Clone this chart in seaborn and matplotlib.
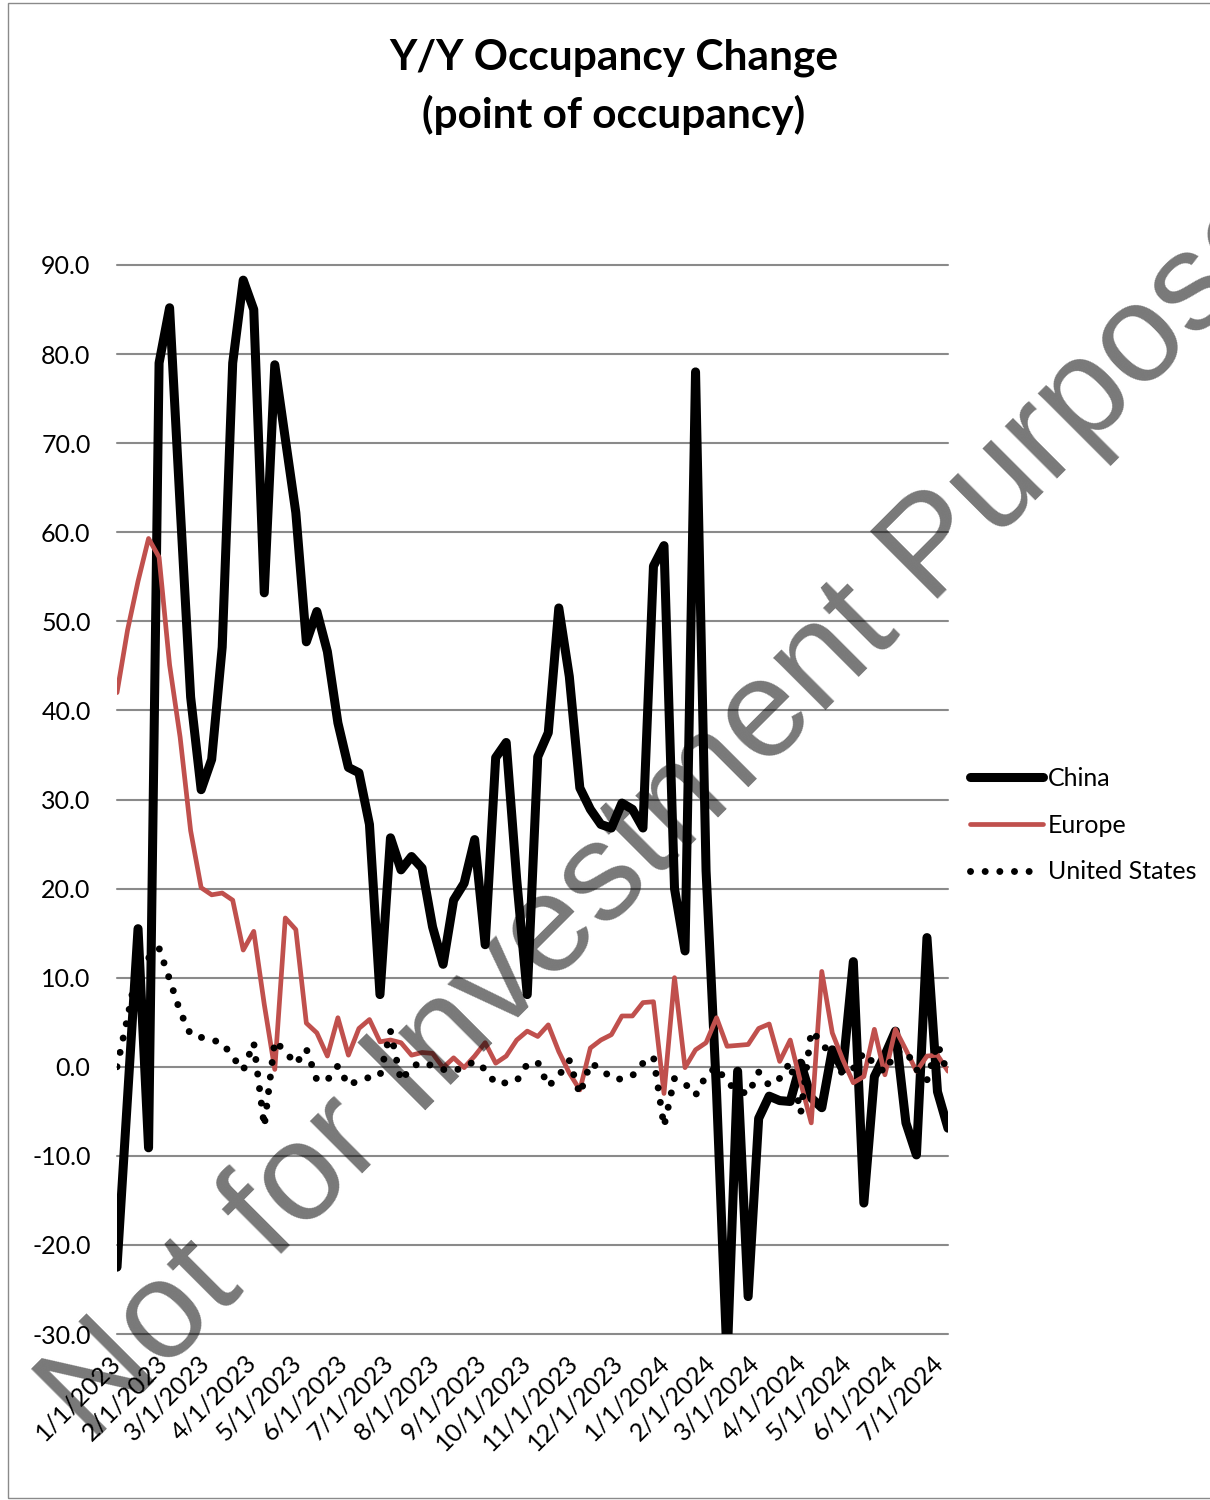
import matplotlib

matplotlib.use("Agg")

import matplotlib.pyplot as plt
import pandas as pd
import seaborn as sns
from matplotlib.patches import Rectangle


# weekly points, 1/1/2023 through 7/7/2024
weeks = pd.date_range("2023-01-01", periods=80, freq="7D")

china = [
    -22.5, -3.5, 15.5, -9.1, 79.0, 85.2, 63.0, 41.5, 31.1, 34.5,
    47.1, 79.0, 88.3, 85.0, 53.2, 78.8, 70.5, 62.2, 47.7, 51.1,
    46.6, 38.6, 33.6, 33.0, 27.2, 8.1, 25.7, 22.1, 23.6, 22.3,
    15.7, 11.5, 18.7, 20.6, 25.5, 13.7, 34.7, 36.4, 21.0, 8.1,
    34.8, 37.5, 51.5, 43.8, 31.3, 28.9, 27.2, 26.8, 29.6, 28.9,
    26.8, 56.2, 58.5, 20.0, 13.0, 78.0, 22.0, -3.0, -33.0, -0.5,
    -25.8, -5.8, -3.3, -3.8, -3.9, 0.4, -3.5, -4.6, 1.9, -0.3,
    11.8, -15.3, -1.1, 1.3, 4.0, -6.3, -9.9, 14.5, -2.8, -6.9,
]

europe = [
    42.0, 49.0, 54.5, 59.3, 57.2, 45.1, 37.0, 26.5, 20.1, 19.3,
    19.5, 18.7, 13.1, 15.2, 7.0, -0.3, 16.7, 15.4, 4.9, 3.8,
    1.2, 5.5, 1.3, 4.3, 5.3, 2.8, 3.0, 2.7, 1.3, 1.6,
    1.5, -0.1, 1.0, -0.1, 1.2, 2.7, 0.4, 1.2, 3.0, 4.0,
    3.4, 4.7, 1.7, -0.7, -2.6, 2.1, 3.0, 3.6, 5.7, 5.7,
    7.2, 7.3, -3.0, 10.0, -0.1, 1.9, 2.7, 5.5, 2.3, 2.4,
    2.5, 4.3, 4.8, 0.6, 3.0, -1.8, -6.3, 10.7, 3.8, 0.8,
    -1.8, -1.1, 4.2, -0.9, 4.2, 1.9, -0.5, 1.2, 1.3, -0.5,
]

united_states = [
    0.0, 5.5, 11.5, 12.2, 13.3, 9.8, 6.2, 3.6, 3.3, 3.0,
    2.7, 1.1, -0.4, 2.7, -6.7, 2.9, 1.7, 0.3, 2.0, -1.5,
    -1.5, 0.1, -2.1, -1.5, -1.2, -1.0, 4.0, -1.6, 0.0, 0.5,
    0.1, -0.3, -0.5, 0.0, 0.6, -0.3, -1.9, -1.8, -1.6, 0.3,
    0.5, -2.2, -1.0, 0.7, -3.1, 0.4, -0.2, -1.3, -1.4, -1.0,
    0.4, 1.1, -6.7, -1.3, -1.9, -3.2, -1.0, 0.0, -1.8, -2.6,
    -3.1, -0.6, -2.1, -1.3, 0.5, -5.2, 4.0, 2.8, 0.8, -0.8,
    -0.2, 1.6, 0.3, -0.6, 1.6, 1.8, -0.3, -1.5, 2.6, -0.9,
]

y_ticks = [-30, -20, -10, 0, 10, 20, 30, 40, 50, 60, 70, 80, 90]
y_labels = ["-30.0", "-20.0", "-10.0", "0.0", "10.0", "20.0", "30.0",
            "40.0", "50.0", "60.0", "70.0", "80.0", "90.0"]

month_ticks = pd.date_range("2023-01-01", "2024-07-01", freq="MS")
month_labels = [
    "1/1/2023", "2/1/2023", "3/1/2023", "4/1/2023", "5/1/2023", "6/1/2023",
    "7/1/2023", "8/1/2023", "9/1/2023", "10/1/2023", "11/1/2023", "12/1/2023",
    "1/1/2024", "2/1/2024", "3/1/2024", "4/1/2024", "5/1/2024", "6/1/2024",
    "7/1/2024",
]

frame = pd.DataFrame({
    "Week": weeks,
    "China": china,
    "Europe": europe,
    "United States": united_states,
})

sns.set_theme(style="white")
plt.rcParams["font.family"] = ["Lato", "DejaVu Sans"]
plt.rcParams["text.color"] = "black"

W, H = 1210, 1500
fig = plt.figure(figsize=(W / 100, H / 100), dpi=100)
ax = fig.add_axes([117 / W, 1 - 1334 / H, (948 - 117) / W, (1334 - 265) / H])

for v in y_ticks:
    ax.axhline(v, color="#8a8a8a", lw=1.5, zorder=1, clip_on=False)

sns.lineplot(data=frame, x="Week", y="China", ax=ax, color="black",
             lw=6.5, label="China", zorder=3)
sns.lineplot(data=frame, x="Week", y="Europe", ax=ax, color="#C0504D",
             lw=3.4, label="Europe", zorder=4)
sns.lineplot(data=frame, x="Week", y="United States", ax=ax, color="black",
             lw=5, linestyle=(0, (0.01, 2.1)), dash_capstyle="round",
             label="United States", zorder=5)

ax.set_xlim(weeks[0], weeks[-1])
ax.set_ylim(-30, 90)
ax.set_yticks(y_ticks)
ax.set_yticklabels(y_labels)
ax.set_xticks(month_ticks)
ax.set_xticklabels(month_labels, rotation=45, ha="right", va="center",
                   rotation_mode="anchor")
ax.tick_params(axis="y", length=0, pad=19, labelsize=18, colors="black")
ax.tick_params(axis="x", length=0, pad=18, labelsize=18, colors="black")
ax.set_xlabel("")
ax.set_ylabel("")
ax.grid(False)
for side in ax.spines.values():
    side.set_visible(False)

leg = ax.legend(loc="center left", bbox_to_anchor=(970 / W, 1 - 825 / H),
                bbox_transform=fig.transFigure, frameon=False, fontsize=18,
                handlelength=2.9, handletextpad=0.2, labelspacing=0.95,
                borderpad=0, borderaxespad=0)
for t in leg.get_texts():
    t.set_color("black")

fig.text(614 / W, 1 - 87 / H, "Y/Y Occupancy Change\n(point of occupancy)",
         ha="center", va="center", fontsize=30.5, fontweight="bold",
         color="black", linespacing=1.55)

# chart area border
fig.add_artist(Rectangle((8 / W, 2 / H), 1.1, 1 - 5 / H,
                         transform=fig.transFigure, fill=False,
                         edgecolor="#8a8a8a", lw=1))

# watermark
fig.text(695 / W, 1 - 790 / H, "Not for Investment Purposes", rotation=45,
         rotation_mode="anchor", ha="center", va="center", fontsize=101,
         family=["Liberation Sans", "DejaVu Sans"], color="black",
         alpha=0.53, zorder=10)

fig.savefig("out.png", dpi=100)
plt.close(fig)
